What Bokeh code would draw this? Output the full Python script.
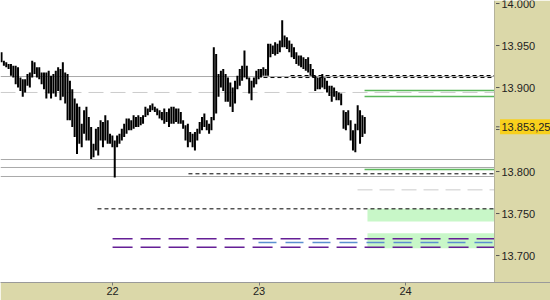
from bokeh.plotting import figure
from bokeh.models import FixedTicker, CustomJSTickFormatter, Range1d, ColumnDataSource
from bokeh.core.properties import value
from bokeh.embed import file_html
from bokeh.resources import INLINE

# ---- price bars (high / low), ~24-minute bars ----
high = [13942, 13932, 13930, 13928, 13928, 13926, 13926, 13924, 13912, 13910,
        13910, 13916, 13918, 13932, 13930, 13924, 13924, 13918, 13918, 13918,
        13920, 13914, 13916, 13920, 13924, 13922, 13930, 13918, 13916, 13908,
        13898, 13887, 13881, 13877, 13857, 13873, 13877, 13865, 13853, 13833,
        13851, 13853, 13861, 13859, 13867, 13861, 13845, 13843, 13837, 13843,
        13845, 13851, 13857, 13863, 13863, 13861, 13867, 13865, 13867, 13865,
        13867, 13877, 13875, 13879, 13881, 13877, 13875, 13873, 13871, 13875,
        13871, 13875, 13877, 13877, 13875, 13875, 13871, 13861, 13855,
        13857, 13847, 13845, 13847, 13851, 13859, 13865, 13869, 13861, 13857,
        13865, 13948, 13940, 13916, 13920, 13922, 13916, 13912, 13906, 13900,
        13908, 13914, 13922, 13926, 13944, 13926, 13912, 13908, 13912, 13920,
        13922, 13922, 13924, 13922, 13952, 13952, 13950, 13954, 13952, 13956,
        13980, 13962, 13960, 13956, 13952, 13948, 13942, 13938, 13938, 13936,
        13934, 13936, 13928, 13922, 13914, 13912, 13912, 13916, 13912, 13908,
        13902, 13902, 13900, 13896, 13894, 13893, 13873, 13871, 13873, 13861,
        13849, 13857, 13879, 13873, 13867, 13865]
low = [13930, 13926, 13924, 13922, 13914, 13912, 13904, 13900, 13896, 13889,
       13894, 13902, 13900, 13912, 13916, 13912, 13910, 13904, 13898, 13887,
       13893, 13887, 13893, 13889, 13896, 13885, 13889, 13881, 13861, 13861,
       13853, 13841, 13821, 13833, 13829, 13845, 13837, 13837, 13815, 13817,
       13825, 13819, 13837, 13829, 13837, 13833, 13833, 13829, 13793, 13829,
       13833, 13837, 13841, 13845, 13849, 13849, 13851, 13853, 13853, 13855,
       13857, 13865, 13867, 13871, 13873, 13871, 13867, 13863, 13861, 13857,
       13859, 13853, 13857, 13857, 13859, 13857, 13857, 13851, 13837,
       13829, 13835, 13829, 13825, 13837, 13845, 13849, 13853, 13849, 13845,
       13849, 13861, 13869, 13889, 13900, 13896, 13883, 13883, 13877, 13871,
       13881, 13898, 13902, 13908, 13912, 13910, 13893, 13885, 13900, 13904,
       13910, 13912, 13914, 13914, 13914, 13936, 13940, 13938, 13940, 13942,
       13948, 13948, 13946, 13942, 13936, 13934, 13928, 13926, 13924, 13922,
       13920, 13918, 13914, 13912, 13896, 13898, 13898, 13900, 13898, 13894,
       13890, 13883, 13889, 13885, 13885, 13879, 13851, 13849, 13855, 13837,
       13825, 13823, 13849, 13833, 13841, 13845]
first_bar_day = 21.242
bar_step_days = 0.0161
last_price = 13853.25

# ---- horizontal levels (price, start day) ----
gray_solid_levels = [13913.1, 13814.3, 13804.8, 13794.1]
gray_solid_starts = [21.235, 21.235, 21.235, 21.235]
gray_dash_levels = [13894.1, 13778.2]
gray_dash_starts = [21.235, 23.672]
black_dash_levels = [13914.3, 13911.9, 13797.3, 13755.6]
black_dash_starts = [23.215, 23.03, 22.518, 21.897]
green_levels = [13896.5, 13889.3, 13802.4]
green_starts = [23.72, 23.72, 23.72]
purple_levels = [13720.0, 13710.0]
purple_starts = [22.0, 22.0]
blue_levels = [13715.4]
blue_starts = [22.996]
zone_tops = [13755.6, 13726.6]
zone_bottoms = [13740.5, 13708.7]
zone_starts = [23.74, 23.74]

day_ticks = [22, 23, 24]
price_ticks = [13700, 13750, 13800, 13850, 13900, 13950, 14000]

# chart area (days) and full canvas width incl. price scale panel
x_start, x_end = 21.235, 24.607
px = (x_end - x_start) / 494.0          # one screen pixel in days
x_full = x_start + 550 * px
y_start, y_end = 13667.9, 14003.6
ypx = (y_end - y_start) / 282.0         # one screen pixel in price units

panel = "#dbd8a9"
font = "Liberation Sans"

def de_fmt(v, decimals=0):
    s = f"{v:,.{decimals}f}"
    return s.replace(",", "#").replace(".", ",").replace("#", ".")

p = figure(width=550, height=300, output_backend="svg", toolbar_location=None,
           x_range=Range1d(x_start, x_full), y_range=Range1d(y_start, y_end),
           min_border_left=0, min_border_top=0, min_border_right=0,
           min_border_bottom=18)
p.border_fill_color = panel
p.background_fill_color = "white"
p.outline_line_color = None
p.xgrid.visible = False
p.ygrid.visible = False
p.yaxis.visible = False

def hlines(levels, starts, **kw):
    src = ColumnDataSource(dict(x0=starts, x1=[x_end] * len(levels), y=levels))
    p.segment(x0="x0", x1="x1", y0="y", y1="y", source=src, **kw)

hlines(gray_solid_levels, gray_solid_starts, line_color="#a9a9a9", line_width=1)
hlines(gray_dash_levels, gray_dash_starts, line_color="#cccccc", line_width=1, line_dash="15 7")

p.quad(left=zone_starts, right=[x_end] * len(zone_tops), top=zone_tops, bottom=zone_bottoms,
       fill_color="#c8f7c8", line_color=None)

hlines(purple_levels, purple_starts, line_color="#651f96", line_width=1.5, line_dash="20 8")
hlines(blue_levels, blue_starts, line_color="#5b8fd0", line_width=1.5, line_dash="18 9")
hlines(green_levels, green_starts, line_color="#5cb85c", line_width=1.5)
hlines(black_dash_levels, black_dash_starts, line_color="black", line_width=1, line_dash="4 3")

# bars
times = [first_bar_day + i * bar_step_days for i in range(len(high))]
bars = ColumnDataSource(dict(t=times, h=high, l=low))
p.segment(x0="t", x1="t", y0="l", y1="h", source=bars, line_color="black",
          line_width=2, line_cap="butt")

# ---- price scale panel on the right ----
p.quad(left=[x_end], right=[x_full], bottom=[y_start], top=[y_end],
       fill_color=panel, line_color=None)
p.segment(x0=[x_end], x1=[x_end], y0=[y_start], y1=[y_end], line_color="#b4b29a", line_width=1)
p.segment(x0=[x_end + 1.5 * px] * len(price_ticks), x1=[x_end + 5 * px] * len(price_ticks),
          y0=price_ticks, y1=price_ticks, line_color="#555555", line_width=1)
p.text(x=[x_end + 7 * px] * len(price_ticks), y=price_ticks,
       text=[de_fmt(v) for v in price_ticks],
       text_font=value(font), text_font_size="11px", text_color="#222222",
       text_baseline="middle", text_align="left")

# current price marker
p.segment(x0=[x_end + 1.5 * px], x1=[x_end + 5 * px], y0=[last_price], y1=[last_price],
          line_color="#555555", line_width=1)
p.quad(left=[x_end + 5.5 * px], right=[x_full], bottom=[last_price - 7.5 * ypx],
       top=[last_price + 7.5 * ypx], fill_color="#f8d01c", line_color=None)
p.text(x=[x_end + 7 * px], y=[last_price], text=[de_fmt(last_price, 2)],
       text_font=value(font), text_font_size="11px", text_color="#222222",
       text_baseline="middle", text_align="left")

# ---- date axis ----
p.xaxis.ticker = FixedTicker(ticks=day_ticks)
p.xaxis.formatter = CustomJSTickFormatter(code="return tick.toFixed(0);")
p.xaxis.major_tick_out = 3
p.xaxis.major_tick_in = 0
p.xaxis.minor_tick_line_color = None
p.xaxis.major_label_standoff = 1
p.xaxis.axis_line_color = "#9a9a9a"
p.xaxis.major_tick_line_color = "#777777"
p.xaxis.major_label_text_font = font
p.xaxis.major_label_text_font_size = "11px"
p.xaxis.major_label_text_color = "#222222"

open("out.html", "w").write(file_html(p, INLINE))
